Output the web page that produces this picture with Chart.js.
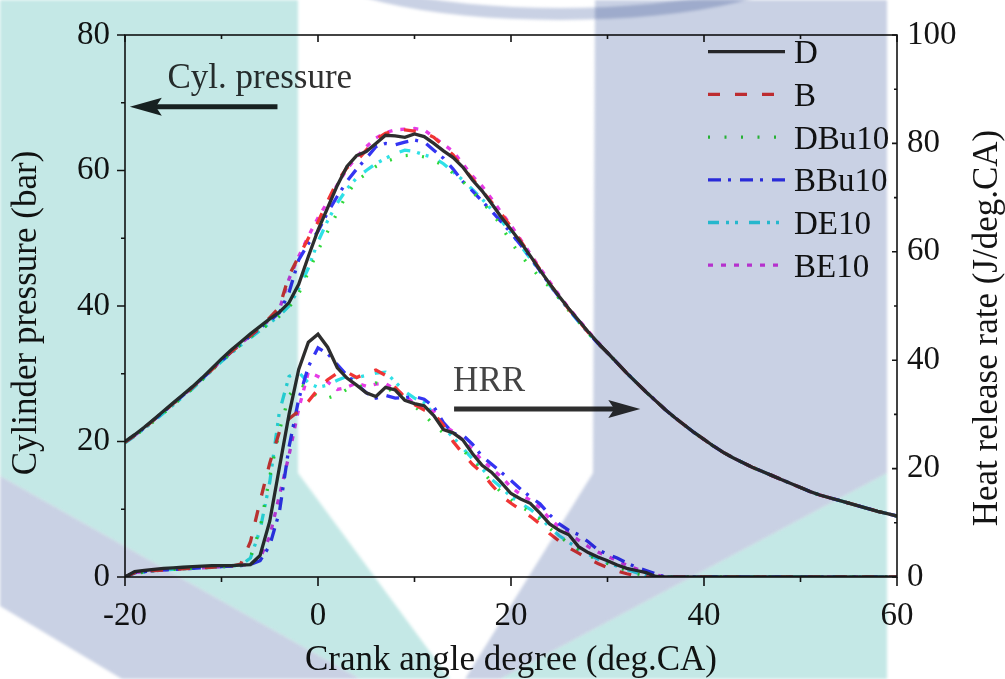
<!DOCTYPE html>
<html>
<head>
<meta charset="utf-8">
<script src="https://cdn.jsdelivr.net/npm/chart.js@4.4.1/dist/chart.umd.min.js"></script>
<style>
  html, body { margin: 0; padding: 0; background: #fff; }
  #wrap { width: 1005px; height: 679px; }
</style>
</head>
<body>
<div id="wrap"><canvas id="engineChart" width="1005" height="679"></canvas></div>
<script>
// crank angle grid, deg.CA
const angle = [];
for (let a = -20; a <= 60; a++) angle.push(a);

const fuels = ['D', 'B', 'DBu10', 'BBu10', 'DE10', 'BE10'];

// cylinder pressure (bar), -20..29 deg.CA
const pressD = [
  20.0, 21.0, 22.1, 23.3, 24.5, 25.7, 26.9, 28.1, 29.4, 30.8,
  32.2, 33.5, 34.7, 35.9, 37.0, 38.1, 39.1, 40.5, 43.2, 47.3,
  51.2, 54.5, 57.8, 60.6, 62.2, 62.8, 64.0, 65.2, 65.1, 64.9,
  65.4, 65.0, 64.0, 62.9, 61.9, 60.5, 58.6, 57.0, 55.1, 53.1,
  51.3, 49.4, 47.4, 45.3, 43.3, 41.4, 39.6, 37.9, 36.2, 34.6
];
const pressB = [
  19.9, 20.9, 22.0, 23.2, 24.4, 25.6, 26.8, 28.0, 29.3, 30.6,
  32.0, 33.2, 34.4, 35.6, 36.8, 38.3, 39.8, 44.5, 47.3, 50.0,
  52.4, 55.5, 58.4, 60.4, 61.4, 63.0, 64.6, 65.5, 65.9, 66.0,
  65.8, 65.6, 64.9, 63.6, 62.3, 60.4, 58.8, 57.0, 55.3, 53.6,
  51.7, 49.6, 47.5, 45.4, 43.3, 41.4, 39.5, 37.8, 36.1, 34.5
];
const pressDBu10 = [
  19.9, 20.8, 21.9, 23.0, 24.2, 25.4, 26.6, 27.8, 29.1, 30.5,
  31.8, 33.1, 34.3, 35.4, 36.5, 37.4, 38.5, 39.8, 41.8, 45.0,
  48.2, 51.0, 53.8, 56.5, 58.5, 59.5, 60.6, 61.3, 61.8, 62.2,
  62.3, 62.0, 61.4, 60.8, 59.6, 58.4, 56.9, 55.3, 53.8, 51.8,
  49.4, 47.5, 45.8, 44.2, 42.8, 41.1, 39.3, 37.7, 36.0, 34.5
];
const pressBBu10 = [
  19.9, 20.9, 22.0, 23.2, 24.4, 25.6, 26.8, 28.0, 29.3, 30.6,
  31.9, 33.2, 34.4, 35.6, 36.7, 37.8, 39.0, 42.0, 46.8, 49.2,
  51.0, 53.8, 56.2, 58.4, 60.2, 61.8, 63.5, 64.0, 63.8, 64.2,
  64.5, 64.2, 63.0, 61.8, 60.2, 58.4, 57.0, 55.5, 54.0, 52.4,
  50.8, 49.0, 47.2, 45.2, 43.2, 41.3, 39.5, 37.8, 36.1, 34.5
];
const pressDE10 = [
  19.8, 20.8, 21.9, 23.0, 24.2, 25.4, 26.6, 27.8, 29.1, 30.5,
  31.8, 33.0, 34.2, 35.3, 36.4, 37.5, 38.6, 40.0, 42.5, 45.6,
  49.5, 52.6, 55.2, 57.3, 58.9, 60.0, 61.0, 61.8, 62.5, 63.0,
  62.8, 62.3, 61.9, 61.0, 59.8, 58.6, 57.2, 55.8, 54.2, 52.6,
  50.8, 48.9, 47.0, 45.1, 43.1, 41.2, 39.4, 37.7, 36.0, 34.4
];
const pressBE10 = [
  19.9, 20.9, 22.0, 23.2, 24.4, 25.6, 26.8, 28.0, 29.3, 30.6,
  32.0, 33.3, 34.5, 35.6, 36.7, 38.0, 39.5, 44.0, 47.3, 50.3,
  53.0, 55.4, 57.9, 60.2, 62.0, 63.5, 64.8, 65.6, 66.0, 66.1,
  66.2, 66.0, 64.9, 63.9, 62.8, 61.0, 59.2, 57.7, 55.8, 53.8,
  51.9, 49.8, 47.7, 45.6, 43.6, 41.6, 39.7, 38.0, 36.3, 34.7
];
// expansion stroke 30..60 deg.CA, where all six pressure traces coincide
const pressExpansion = [
  33.1, 31.6, 30.1, 28.7, 27.3, 26.0, 24.7, 23.5, 22.4, 21.3,
  20.3, 19.3, 18.4, 17.6, 16.9, 16.2, 15.6, 15.0, 14.4, 13.8,
  13.2, 12.6, 12.1, 11.7, 11.3, 10.9, 10.5, 10.1, 9.7, 9.35, 9.0
];

// heat release rate (J/deg.CA), -20..60 deg.CA
const hrrD = [
  0, 1.0, 1.2, 1.4, 1.6, 1.7, 1.8, 1.9, 2.0, 2.1,
  2.1, 2.1, 2.2, 2.3, 4.0, 10.3, 20.2, 30.0, 38.3, 43.3,
  44.8, 42.4, 38.6, 36.7, 35.4, 34.0, 33.3, 35.0, 34.5, 32.6,
  32.0, 31.6, 29.8, 27.2, 26.6, 25.3, 22.8, 20.6, 19.3, 17.4,
  15.4, 14.4, 13.6, 11.8, 9.8, 8.6, 7.8, 5.6, 4.5, 3.7,
  3.0, 2.2, 1.6, 1.2, 0.8, 0.1, 0, 0, 0, 0,
  0, 0, 0, 0, 0, 0, 0, 0, 0, 0,
  0, 0, 0, 0, 0, 0, 0, 0, 0, 0, 0
];
const hrrB = [
  0, 0.8, 1.0, 1.2, 1.3, 1.4, 1.5, 1.6, 1.7, 1.8,
  1.9, 2.0, 2.4, 6.5, 14.0, 21.0, 26.8, 29.2, 30.6, 32.4,
  34.6, 36.4, 37.6, 37.8, 36.8, 37.6, 38.2, 37.2, 35.0, 33.2,
  31.8, 30.8, 30.2, 28.0, 25.0, 22.8, 20.8, 19.2, 17.0, 15.0,
  13.6, 12.4, 11.2, 9.8, 8.0, 6.6, 5.4, 4.4, 3.4, 2.5,
  1.7, 1.1, 0.6, 0.2, 0, 0, 0, 0, 0, 0,
  0, 0, 0, 0, 0, 0, 0, 0, 0, 0,
  0, 0, 0, 0, 0, 0, 0, 0, 0, 0, 0
];
const hrrDBu10 = [
  0, 0.7, 0.9, 1.1, 1.3, 1.4, 1.5, 1.6, 1.7, 1.8,
  1.9, 2.0, 2.2, 3.6, 9.0, 18.5, 27.0, 33.5, 35.5, 35.0,
  33.0, 33.0, 33.6, 34.6, 35.3, 35.0, 35.8, 35.4, 33.5, 32.8,
  31.5, 30.0, 28.0, 26.6, 25.0, 23.5, 21.5, 19.6, 17.5, 15.6,
  14.2, 13.0, 12.0, 10.6, 9.0, 7.5, 6.2, 5.0, 4.0, 3.2,
  2.5, 1.8, 1.2, 0.6, 0.2, 0, 0, 0, 0, 0,
  0, 0, 0, 0, 0, 0, 0, 0, 0, 0,
  0, 0, 0, 0, 0, 0, 0, 0, 0, 0, 0
];
const hrrBBu10 = [
  0, 0.8, 1.0, 1.2, 1.3, 1.4, 1.5, 1.6, 1.7, 1.8,
  1.9, 2.0, 2.1, 2.3, 3.0, 5.8, 12.0, 24.0, 32.8, 38.8,
  42.3, 41.2, 39.2, 37.2, 35.6, 34.0, 33.0, 33.5, 33.0, 33.1,
  33.3, 32.8, 31.4, 28.5, 26.5, 26.2, 24.5, 22.3, 20.8, 19.3,
  17.8, 16.2, 14.8, 13.5, 11.5, 9.8, 8.6, 7.8, 6.5, 5.0,
  4.2, 3.5, 2.6, 1.8, 1.2, 0.6, 0, 0, 0, 0,
  0, 0, 0, 0, 0, 0, 0, 0, 0, 0,
  0, 0, 0, 0, 0, 0, 0, 0, 0, 0, 0
];
const hrrDE10 = [
  0, 0.7, 0.9, 1.1, 1.3, 1.4, 1.5, 1.6, 1.7, 1.8,
  1.9, 2.0, 2.2, 3.5, 8.7, 17.5, 30.5, 37.0, 37.8, 35.8,
  35.0, 35.4, 36.3, 37.0, 36.8, 37.2, 37.6, 37.8, 36.0, 34.2,
  33.0, 32.2, 30.0, 27.5, 25.8, 23.8, 21.8, 20.0, 18.0, 16.5,
  14.8, 13.6, 12.5, 11.0, 9.2, 7.6, 6.4, 5.2, 4.2, 3.3,
  2.6, 2.0, 1.4, 0.8, 0.3, 0, 0, 0, 0, 0,
  0, 0, 0, 0, 0, 0, 0, 0, 0, 0,
  0, 0, 0, 0, 0, 0, 0, 0, 0, 0, 0
];
const hrrBE10 = [
  0, 0.8, 1.0, 1.2, 1.3, 1.4, 1.5, 1.6, 1.7, 1.8,
  1.9, 2.0, 2.2, 2.3, 3.5, 7.5, 15.0, 22.5, 31.0, 37.8,
  37.0, 36.0, 34.6, 35.0, 35.8, 35.2, 35.6, 35.7, 34.6, 33.5,
  32.0, 31.0, 30.6, 28.0, 26.8, 25.3, 23.5, 21.5, 20.0, 18.5,
  16.6, 15.2, 14.2, 12.8, 10.8, 9.2, 8.0, 6.8, 5.6, 4.6,
  3.8, 3.0, 2.2, 1.5, 0.9, 0.4, 0, 0, 0, 0,
  0, 0, 0, 0, 0, 0, 0, 0, 0, 0,
  0, 0, 0, 0, 0, 0, 0, 0, 0, 0, 0
];

const pressure = [pressD, pressB, pressDBu10, pressBBu10, pressDE10, pressBE10];
const hrr = [hrrD, hrrB, hrrDBu10, hrrBBu10, hrrDE10, hrrBE10];

// one colour / dash pattern per fuel
const colors = ['#2e2e2e', '#f03535', '#2fd83a', '#3434f2', '#2fe0e6', '#e63ce6'];
const dashes = [[], [12, 15], [2, 14.5], [13, 7, 3, 9], [11, 7, 3, 6, 3, 11], [5, 8]];

function toPoints(ys) {
  return ys.map((y, i) => ({ x: angle[i], y: y }));
}

const datasets = [];
fuels.forEach((f, i) => {
  datasets.push({
    label: f,
    data: toPoints(pressure[i].concat(pressExpansion)),
    yAxisID: 'y',
    borderColor: colors[i],
    borderDash: dashes[i],
    borderWidth: 3.3,
    pointRadius: 0,
    fill: false
  });
});
fuels.forEach((f, i) => {
  datasets.push({
    label: f + ' HRR',
    data: toPoints(hrr[i]),
    yAxisID: 'y1',
    borderColor: colors[i],
    borderDash: dashes[i],
    borderWidth: 3.3,
    pointRadius: 0,
    fill: false
  });
});

const serif = '"Liberation Serif", "Times New Roman", serif';
Chart.defaults.font.family = serif;
Chart.defaults.color = '#141414';

// axis frame with major/minor ticks, y titles, arrows and legend
const framePlugin = {
  id: 'frame',
  afterDatasetsDraw(chart) {
    const { ctx, chartArea: a, scales } = chart;
    const x = scales.x, y = scales.y, y1 = scales.y1;
    ctx.save();
    ctx.strokeStyle = '#151515';
    ctx.lineWidth = 1.6;
    ctx.strokeRect(a.left, a.top, a.right - a.left, a.bottom - a.top);
    ctx.beginPath();
    for (let v = -20; v <= 60; v += 10) {
      const px = x.getPixelForValue(v);
      const major = v % 20 === 0;
      ctx.moveTo(px, a.bottom); ctx.lineTo(px, a.bottom + (major ? 9 : 5));
      ctx.moveTo(px, a.top); ctx.lineTo(px, a.top + (major ? 7 : 4));
    }
    for (let v = 0; v <= 80; v += 10) {
      const py = y.getPixelForValue(v);
      ctx.moveTo(a.left, py); ctx.lineTo(a.left - (v % 20 === 0 ? 8 : 4), py);
    }
    for (let v = 0; v <= 100; v += 10) {
      const py = y1.getPixelForValue(v);
      ctx.moveTo(a.right, py); ctx.lineTo(a.right - (v % 20 === 0 ? 5 : 3), py);
    }
    ctx.stroke();

    // vertical axis titles, both reading bottom to top
    ctx.font = '35px ' + serif;
    ctx.fillStyle = '#141414';
    ctx.textAlign = 'center';
    ctx.textBaseline = 'middle';
    [['Cylinder pressure (bar)', 27, 313], ['Heat release rate (J/deg.CA)', 988, 328]].forEach(t => {
      ctx.save();
      ctx.translate(t[1], t[2]);
      ctx.rotate(-Math.PI / 2);
      ctx.fillText(t[0], 0, 0);
      ctx.restore();
    });

    // arrows pointing to the axis each trace family belongs to
    function arrow(x0, x1, yy, color) {
      const p0 = x.getPixelForValue(x0), p1 = x.getPixelForValue(x1);
      const dir = Math.sign(p1 - p0);
      ctx.strokeStyle = color; ctx.fillStyle = color;
      ctx.lineWidth = 5;
      ctx.beginPath();
      ctx.moveTo(p0, yy); ctx.lineTo(p1 - dir * 20, yy);
      ctx.stroke();
      ctx.beginPath();
      ctx.moveTo(p1, yy);
      ctx.lineTo(p1 - dir * 32, yy - 9);
      ctx.lineTo(p1 - dir * 26, yy);
      ctx.lineTo(p1 - dir * 32, yy + 9);
      ctx.closePath();
      ctx.fill();
    }
    ctx.textAlign = 'left';
    ctx.textBaseline = 'alphabetic';
    ctx.fillStyle = '#303030';
    ctx.fillText('Cyl. pressure', x.getPixelForValue(-15.6), y.getPixelForValue(72.2));
    arrow(-4.2, -19.5, y.getPixelForValue(69.4), '#1e2424');
    ctx.fillStyle = '#444';
    ctx.fillText('HRR', x.getPixelForValue(14.0), y1.getPixelForValue(34.4));
    arrow(14.1, 33.4, y1.getPixelForValue(31.0), '#2f2f2f');

    // legend
    const lx0 = a.right - 189, lx1 = a.right - 112, tx = a.right - 103;
    ctx.font = '33px ' + serif;
    chart.data.datasets.slice(0, fuels.length).forEach((ds, i) => {
      const ly = a.top + 16.7 + i * 42.7;
      ctx.strokeStyle = ds.borderColor;
      ctx.lineWidth = 3.3;
      ctx.setLineDash(ds.borderDash);
      ctx.beginPath(); ctx.moveTo(lx0, ly); ctx.lineTo(lx1, ly); ctx.stroke();
      ctx.setLineDash([]);
      ctx.fillStyle = '#141414';
      ctx.fillText(ds.label, tx, ly + 11.5);
    });
    ctx.restore();
  },
  // faint logo watermark laid over the whole figure
  afterDraw(chart) {
    const { ctx } = chart;
    ctx.save();
    ctx.globalCompositeOperation = 'multiply';
    ctx.filter = 'blur(1.5px)';
    function poly(pts, color) {
      ctx.fillStyle = color;
      ctx.beginPath();
      pts.forEach((p, i) => i ? ctx.lineTo(p[0], p[1]) : ctx.moveTo(p[0], p[1]));
      ctx.closePath();
      ctx.fill();
    }
    const teal = '#c4e8e6', slate = '#c9d1e4';
    poly([[0, 0], [298, 0], [298, 473], [450, 679], [360, 679], [0, 476]], teal);
    poly([[0, 476], [360, 679], [122, 679], [0, 606]], slate);
    poly([[595, 0], [887, 0], [887, 473], [500, 679], [465, 679], [593, 473]], slate);
    poly([[887, 473], [500, 679], [887, 679]], teal);
    // thin arc at the top edge
    ctx.fillStyle = slate;
    ctx.beginPath();
    ctx.ellipse(560, -40, 250, 60, 0, 0, Math.PI * 2);
    ctx.ellipse(560, -48, 240, 56, 0, 0, Math.PI * 2);
    ctx.fill('evenodd');
    ctx.restore();
  }
};

new Chart(document.getElementById('engineChart'), {
  type: 'line',
  data: { datasets },
  plugins: [framePlugin],
  options: {
    responsive: false,
    animation: false,
    layout: { padding: { top: 35, left: 0, right: 0, bottom: 0 } },
    plugins: { legend: { display: false }, tooltip: { enabled: false } },
    scales: {
      x: {
        type: 'linear', min: -20, max: 60,
        grid: { display: false, drawTicks: false }, border: { display: false },
        ticks: { stepSize: 20, padding: 20, font: { size: 33 }, maxRotation: 0 },
        title: { display: true, text: 'Crank angle degree (deg.CA)', font: { size: 35, lineHeight: 1 }, padding: { top: 0, bottom: 1 } },
        afterFit(s) { s.height = 102; }
      },
      y: {
        position: 'left', min: 0, max: 80,
        grid: { display: false, drawTicks: false }, border: { display: false },
        ticks: { stepSize: 20, padding: 15, font: { size: 33 } },
        afterFit(s) { s.width = 125; }
      },
      y1: {
        position: 'right', min: 0, max: 100,
        grid: { display: false, drawTicks: false }, border: { display: false },
        ticks: { stepSize: 20, padding: 10, font: { size: 33 } },
        afterFit(s) { s.width = 108; }
      }
    }
  }
});
</script>
</body>
</html>
